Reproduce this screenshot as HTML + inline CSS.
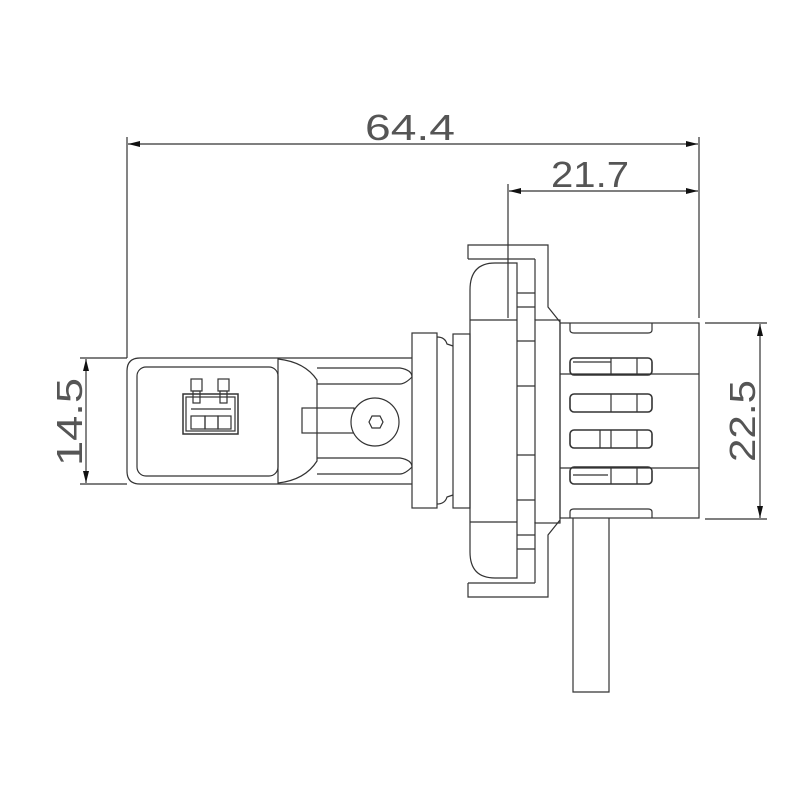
<!DOCTYPE html>
<html><head><style>
html,body{margin:0;padding:0;background:#fff;}
svg{display:block;}
text{font-family:"Liberation Sans",sans-serif;fill:#555;}
</style></head><body>
<svg width="800" height="800" viewBox="0 0 800 800" xmlns="http://www.w3.org/2000/svg">
<defs>
<marker id="a" viewBox="0 0 12 6" refX="12" refY="3" markerWidth="12" markerHeight="6" orient="auto-start-reverse" markerUnits="userSpaceOnUse">
<path d="M0,0 L12,3 L0,6 Z" fill="#111"/></marker>
</defs>
<g fill="none" stroke="#333" stroke-width="1.2">
<line x1="127" y1="137" x2="127" y2="358"/>
<line x1="699" y1="137" x2="699" y2="318"/>
<line x1="508" y1="184" x2="508" y2="318"/>
<line x1="128" y1="144" x2="698" y2="144" marker-start="url(#a)" marker-end="url(#a)"/>
<line x1="509" y1="191" x2="698" y2="191" marker-start="url(#a)" marker-end="url(#a)"/>
<line x1="705" y1="323" x2="767" y2="323"/>
<line x1="705" y1="519" x2="767" y2="519"/>
<line x1="760" y1="324" x2="760" y2="518" marker-start="url(#a)" marker-end="url(#a)"/>
<line x1="80" y1="358" x2="127" y2="358"/>
<line x1="80" y1="484" x2="127" y2="484"/>
<line x1="86" y1="359" x2="86" y2="483" marker-start="url(#a)" marker-end="url(#a)"/>

<path d="M412,358 L140,358 Q127,358 127,371 L127,471 Q127,484 140,484 L412,484"/>
<rect x="137" y="367" width="141" height="109" rx="9"/>
<line x1="278" y1="358" x2="278" y2="484"/>
<path d="M278,359 Q305,362 317,380 L317,461 Q305,480 278,483"/>
<path d="M317,368 L400,368 Q412,370 412,377 Q405,384 400,384 L317,384"/>
<path d="M317,458 L400,458 Q412,460 412,467 Q405,474 400,474 L317,474"/>
<rect x="302" y="408" width="52" height="25"/>
<circle cx="375" cy="422" r="24" fill="#fff"/>
<path d="M369,422 L372,416 L380,416 L383,422 L380,428 L372,428 Z"/>
<rect x="183" y="394" width="55" height="40" stroke-width="1.5"/>
<rect x="186" y="397" width="49" height="34"/>
<rect x="191" y="379" width="11" height="12"/>
<rect x="218" y="379" width="11" height="12"/>
<rect x="193" y="391" width="7" height="12"/>
<rect x="220" y="391" width="7" height="12"/>
<rect x="191" y="416" width="14" height="13"/>
<rect x="205" y="416" width="13" height="13"/>
<rect x="218" y="416" width="13" height="13"/>
<line x1="191" y1="409" x2="231" y2="409"/>

<rect x="412" y="333" width="25" height="175"/>
<path d="M437,337 Q445,337 447,344 L453,346 M437,504 Q445,504 447,497 L453,495"/>
<rect x="453" y="334" width="17" height="174"/>
<path d="M468,259 L468,245 L548,245 L548,307 L560,322"/>
<line x1="468" y1="259" x2="535" y2="259"/>
<path d="M468,583 L468,597 L548,597 L548,535 L560,520"/>
<line x1="468" y1="583" x2="535" y2="583"/>
<line x1="535" y1="259" x2="535" y2="320"/>
<line x1="535" y1="583" x2="535" y2="522"/>
<path d="M517,263 L495,263 Q470,263 470,290 L470,552 Q470,578 495,578 L517,578 Z"/>
<line x1="470" y1="320" x2="517" y2="320"/>
<line x1="470" y1="522" x2="517" y2="522"/>
<path d="M517,293 L535,293 M517,307 L535,307 M517,341 L535,341 M517,386 L535,386"/>
<path d="M517,455 L535,455 M517,500 L535,500 M517,535 L535,535 M517,549 L535,549"/>
<rect x="535" y="320" width="25" height="203"/>
<rect x="560" y="323" width="139" height="195"/>
<line x1="560" y1="374" x2="699" y2="374"/>
<line x1="560" y1="468" x2="699" y2="468"/>
<path d="M570,323 L570,330 Q570,333 574,333 L648,333 Q652,333 652,330 L652,323"/>
<path d="M570,518 L570,512 Q570,509 574,509 L648,509 Q652,509 652,512 L652,518"/>
<rect x="570" y="358" width="82" height="17" rx="4" stroke-width="1.6"/>
<rect x="570" y="394" width="82" height="18" rx="4" stroke-width="1.6"/>
<rect x="570" y="430" width="82" height="18" rx="4" stroke-width="1.6"/>
<rect x="570" y="467" width="82" height="17" rx="4" stroke-width="1.6"/>
<path d="M611,358 V375 M637,358 V375 M611,394 V412 M637,394 V412 M600,430 V448 M611,430 V448 M637,430 V448 M611,467 V484 M637,467 V484"/>
<line x1="573" y1="362" x2="611" y2="362"/>
<line x1="573" y1="475" x2="608" y2="475"/>
<path d="M573,518 L573,692 L609,692 L609,518"/>
</g>
<text x="410" y="140" font-size="36" text-anchor="middle" textLength="90" lengthAdjust="spacingAndGlyphs">64.4</text>
<text x="590" y="187" font-size="36" text-anchor="middle" textLength="78" lengthAdjust="spacingAndGlyphs">21.7</text>
<text transform="translate(82,422) rotate(-90)" font-size="36" text-anchor="middle" textLength="88" lengthAdjust="spacingAndGlyphs">14.5</text>
<text transform="translate(755,421) rotate(-90)" font-size="36" text-anchor="middle" textLength="82" lengthAdjust="spacingAndGlyphs">22.5</text>
</svg>
</body></html>
